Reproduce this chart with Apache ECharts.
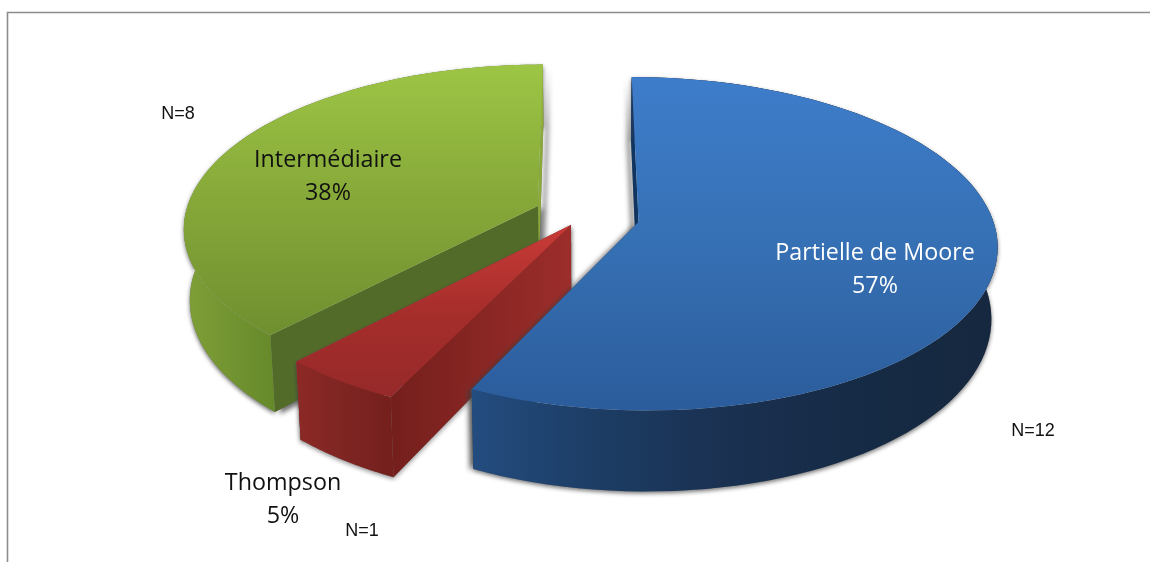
<!DOCTYPE html>
<html>
<head>
<meta charset="utf-8">
<style>html,body{margin:0;padding:0;background:#fff}#c{width:1150px;height:562px}</style>
<script src="https://cdn.jsdelivr.net/npm/echarts@6/dist/echarts.min.js"></script>
</head>
<body>
<div id="c"></div>
<script>
// Data, clockwise from twelve o'clock
var categories = ['Partielle de Moore', 'Thompson', 'Intermédiaire'];
var counts = [12, 1, 8];
var percentLabels = ['57%', '5%', '38%'];
var countLabels = ['N=12', 'N=1', 'N=8'];

// Perspective layout of the tilted pie (screen px)
var VIEW = {vx: 580, y0: 215, rx: 353, ry: 162, p: 0.13, depth: 70, shrink: 0.985};
var apexes = [[638.5, 222], [571, 225], [538, 206]];
var radiusScale = [1, 1.02, 1];
var labelAnchors = [[875, 269.5], [283, 499.5], [328, 176.5]];
var countAnchors = [[1033, 431], [362, 531], [178, 114.5]];
var labelColors = ['#ffffff', '#111111', '#111111'];

function grad(x0, y0, x1, y1, stops) {
  return new echarts.graphic.LinearGradient(x0, y0, x1, y1, stops.map(function (c, i) {
    return {offset: i / (stops.length - 1), color: c};
  }));
}
var palette = [
  {top: ['#3e7dcb', '#3670b4', '#2b5c9b'], outer: ['#234c7f', '#1c3c63', '#1a3050', '#152a44', '#16283f'], start: '#0f3560', end: '#1c3c63', shadow: 'rgba(60,60,60,.7)', sx: -4},
  {top: ['#c93b37', '#a62e2b', '#96292a'], outer: ['#8c2926', '#7e2522', '#741f1c'], start: '#741f1c', midStart: '#9c2d2b', end: '#7a2320', shadow: 'rgba(60,60,60,.55)', sx: 0},
  {top: ['#9dc545', '#86a839', '#6f8f30'], outer: ['#7f9f38', '#66892a', '#7f9f38', '#8aa93a', '#8fae3c'], start: '#526b28', end: '#8aa93a', shadow: 'rgba(60,60,60,.75)', sx: 5}
];

var total = counts.reduce(function (a, b) { return a + b; }, 0);

function ground(apex) {
  var d = apex[1] - VIEW.y0;
  var Yn = d / (VIEW.ry + VIEW.p * d);
  var k = 1 / (1 - VIEW.p * Yn);
  return {X: (apex[0] - VIEW.vx) / k, Y: Yn};
}
function project(X, Y, lower) {
  var k = 1 / (1 - VIEW.p * Y);
  var x = VIEW.vx + X * k * (lower ? VIEW.shrink : 1);
  var y = VIEW.y0 + VIEW.ry * Y * k + (lower ? VIEW.depth * k : 0);
  return [x, y];
}

function renderItem(params, api) {
  var i = api.value(0);
  var before = 0;
  for (var j = 0; j < i; j++) before += counts[j];
  var a0 = before / total * Math.PI * 2;
  var a1 = (before + api.value(1)) / total * Math.PI * 2;
  var c = ground(apexes[i]);
  var pal = palette[i];
  var topRim = [], lowRim = [];
  var n = 90;
  for (var s = 0; s <= n; s++) {
    var a = a0 + (a1 - a0) * s / n;
    var X = c.X + VIEW.rx * radiusScale[i] * Math.sin(a);
    var Y = c.Y - Math.cos(a) * radiusScale[i];
    topRim.push(project(X, Y, false));
    lowRim.push(project(X, Y, true));
  }
  var apexTop = project(c.X, c.Y, false);
  var apexLow = project(c.X, c.Y, true);

  function poly(points, fill, extra) {
    var st = {fill: fill};
    if (extra) for (var key in extra) st[key] = extra[key];
    return {type: 'polygon', shape: {points: points}, style: st};
  }
  var startWall = [apexTop, topRim[0], lowRim[0], apexLow];
  var endWall = [apexTop, topRim[n], lowRim[n], apexLow];
  var rimWall = topRim.concat(lowRim.slice().reverse());
  var shadow = {shadowColor: pal.shadow, shadowBlur: 5, shadowOffsetX: pal.sx, shadowOffsetY: 2};

  var children = [];
  // soft shadow layer under the solid body
  children.push(poly(endWall, '#777777', shadow));
  children.push(poly(startWall, '#777777', shadow));
  children.push(poly(rimWall, '#777777', {shadowColor: pal.shadow, shadowBlur: 4, shadowOffsetX: 0, shadowOffsetY: 2}));
  // solid walls: hidden radial, visible radial, rim
  children.push(poly(endWall, pal.end));
  children.push(poly(startWall, pal.midStart ? grad(0, 0, 1, 0, [pal.start, pal.midStart]) : pal.start));
  children.push(poly(rimWall, grad(0, 0, 1, 0, pal.outer)));
  // top face
  children.push(poly([apexTop].concat(topRim), grad(0, 0, 0, 1, pal.top)));
  // texts
  children.push({
    type: 'text',
    style: {
      text: categories[i] + '\n' + percentLabels[i],
      x: labelAnchors[i][0], y: labelAnchors[i][1],
      align: 'center', verticalAlign: 'middle',
      fontFamily: '"Open Sans"', fontSize: 23.3, lineHeight: 33,
      fill: labelColors[i]
    }
  });
  children.push({
    type: 'text',
    style: {
      text: countLabels[i],
      x: countAnchors[i][0], y: countAnchors[i][1],
      align: 'center', verticalAlign: 'middle',
      fontFamily: '"Liberation Sans"', fontSize: 18,
      fill: '#111111'
    }
  });
  return {type: 'group', children: children};
}

var chart = echarts.init(document.getElementById('c'), null, {renderer: 'canvas'});
chart.setOption({
  animation: false,
  backgroundColor: '#ffffff',
  graphic: [{
    type: 'polyline',
    shape: {points: [[7.5, 562], [7.5, 12.5], [1150, 12.5]]},
    style: {stroke: '#8c8c8c', lineWidth: 1.6, fill: 'none'},
    silent: true
  }],
  series: [{
    type: 'custom',
    coordinateSystem: 'none',
    renderItem: renderItem,
    silent: true,
    // painted back to front
    data: [2, 1, 0].map(function (i) { return [i, counts[i]]; })
  }]
});
</script>
</body>
</html>
